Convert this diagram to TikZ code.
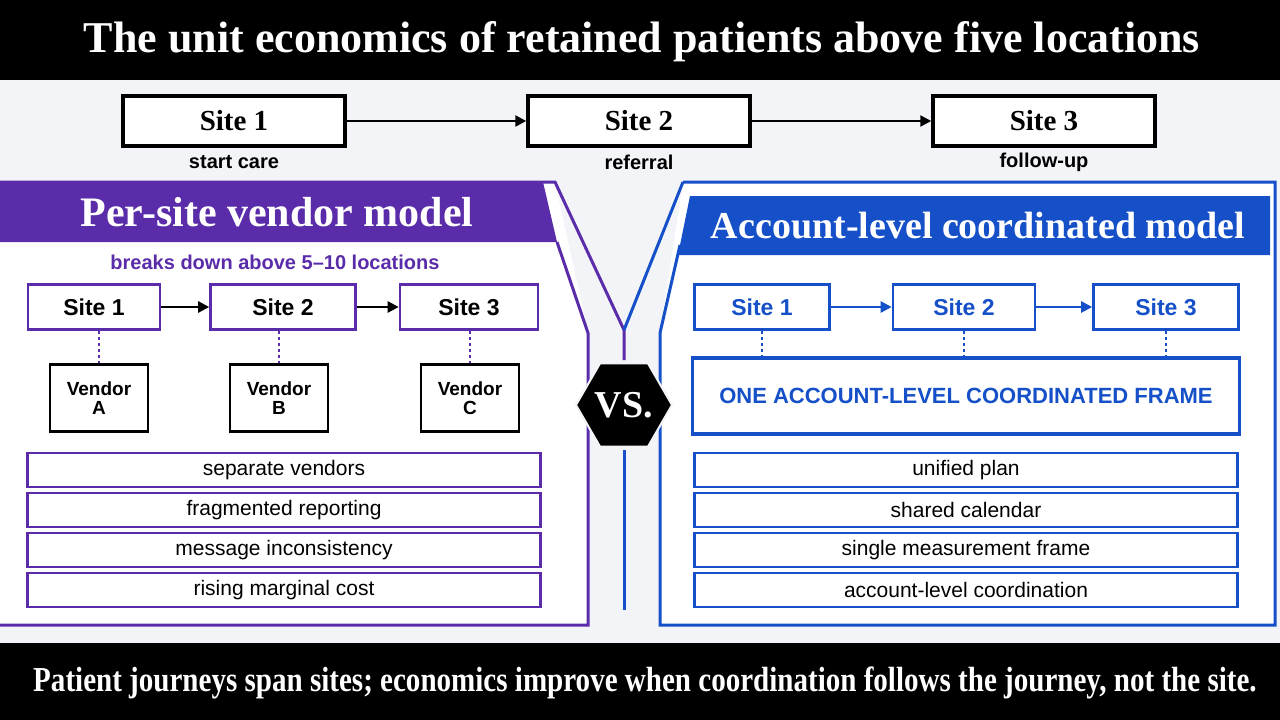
\documentclass[tikz,border=0pt]{standalone}
\usepackage{fontspec}
\setmainfont{Liberation Serif}
\setsansfont{Liberation Sans}
\usetikzlibrary{arrows.meta,positioning,shapes.geometric}
\definecolor{vpurple}{HTML}{5A2CAA}
\definecolor{vblue}{HTML}{1550C8}
\definecolor{paper}{HTML}{F3F4F8}
\newcommand{\fs}[1]{\fontsize{#1}{#1}\selectfont}
\tikzset{
  top/.style={draw=black, line width=3.5pt, fill=white, minimum width=222pt, minimum height=50pt, font=\fs{29}\bfseries},
  stage/.style={font=\sffamily\bfseries\fs{20}},
  lsite/.style={draw=vpurple, line width=2.6pt, fill=white, minimum height=45pt, font=\sffamily\bfseries\fs{23}},
  rsite/.style={draw=vblue, line width=2.6pt, fill=white, minimum height=45pt, text=vblue, font=\sffamily\bfseries\fs{23}},
  vendor/.style={draw=black, line width=2.6pt, fill=white, minimum width=98pt, minimum height=67pt, align=center, font=\sffamily\bfseries\fs{19}},
  litem/.style={draw=vpurple, line width=2.6pt, fill=white, minimum width=513pt, minimum height=34pt, font=\sffamily\fs{21}},
  ritem/.style={draw=vblue, line width=2.6pt, fill=white, minimum width=543pt, minimum height=34pt, font=\sffamily\fs{21}},
  flow/.style={-{Triangle[length=11pt,width=11pt]}, line width=2.4pt},
  link/.style={dashed, line width=2pt}
}
\begin{document}
\begin{tikzpicture}[x=1pt, y=-1pt]
    \useasboundingbox (0,0) rectangle (1280,720);
    % Bands
    \fill[paper] (0,80) rectangle (1280,643);
    \fill[black] (0,0) rectangle (1280,80);
    \fill[black] (0,643) rectangle (1280,720);
    \node[text=white, font=\fs{44}\bfseries] (title) at (642,42) {The unit economics of retained patients above five locations};
    \node[text=white, font=\fs{35}\bfseries, xscale=0.83] (foot) at (645,683) {Patient journeys span sites; economics improve when coordination follows the journey, not the site.};

    % Journey
    \node[top] (j1) at (234,121) {Site 1};
    \node[top] (j2) at (639,121) {Site 2};
    \node[top] (j3) at (1044,121) {Site 3};
    \draw[flow] (j1) -- (j2);
    \draw[flow] (j2) -- (j3);
    \node[stage] (c1) at (234,162) {start care};
    \node[stage] (c2) at (639,162) {referral};
    \node[stage] (c3) at (1044,162) {follow-up};

    % Panel outlines
    \fill[white] (0,182) -- (555,182) -- (588,333) -- (588,625) -- (0,625) -- cycle;
    \fill[white] (683,182) -- (1275,182) -- (1275,625) -- (660,625) -- (660,333) -- cycle;
    \draw[vpurple, line width=3pt] (0,182) -- (555,182) -- (624,330) -- (624,360);
    \draw[vpurple, line width=3pt] (557,242) -- (588,333) -- (588,625) -- (0,625);
    \draw[vblue, line width=3pt] (683,182) -- (624,330);
    \draw[vblue, line width=3pt] (624,450) -- (624,610);
    \draw[vblue, line width=3pt] (680,245) -- (660,333) -- (660,625) -- (1275,625) -- (1275,182) -- (683,182);
    \fill[vpurple] (0,182) -- (543,182) -- (557,242) -- (0,242) -- cycle;
    \fill[vblue] (690,196) -- (1270,196) -- (1270,255) -- (678,255) -- cycle;
    \node[text=white, font=\fs{42}\bfseries] (lhead) at (277,212) {Per-site vendor model};
    \node[text=white, font=\fs{38}\bfseries] (rhead) at (978,226) {Account-level coordinated model};

    % Left model
    \node[text=vpurple, font=\sffamily\bfseries\fs{20}] (brk) at (275,262) {breaks down above 5--10 locations};
    \node[lsite, minimum width=132pt] (l1) at (94,307) {Site 1};
    \node[lsite, minimum width=145pt] (l2) at (283,307) {Site 2};
    \node[lsite, minimum width=138pt] (l3) at (469,307) {Site 3};
    \draw[flow] (l1) -- (l2);
    \draw[flow] (l2) -- (l3);
    \node[vendor] (va) at (99,398) {Vendor\\A};
    \node[vendor] (vb) at (279,398) {Vendor\\B};
    \node[vendor] (vc) at (470,398) {Vendor\\C};
    \foreach \s/\v in {l1/va, l2/vb, l3/vc}
      \draw[link, vpurple] (\s.south -| \v) -- (\v);
    \node[litem] (li1) at (284,470) {separate vendors};
    \node[litem] (li2) at (284,510) {fragmented reporting};
    \node[litem] (li3) at (284,550) {message inconsistency};
    \node[litem] (li4) at (284,590) {rising marginal cost};

    % Right model
    \node[rsite, minimum width=135pt] (r1) at (762,307) {Site 1};
    \node[rsite, minimum width=142pt] (r2) at (964,307) {Site 2};
    \node[rsite, minimum width=145pt] (r3) at (1166,307) {Site 3};
    \draw[flow, vblue] (r1) -- (r2);
    \draw[flow, vblue] (r2) -- (r3);
    \node[draw=vblue, line width=3.5pt, fill=white, minimum width=547pt, minimum height=76pt, text=vblue, font=\sffamily\bfseries\fs{22}] (frame) at (966,396) {ONE ACCOUNT-LEVEL COORDINATED FRAME};
    \foreach \s in {r1, r2, r3}
      \draw[link, vblue] (\s) -- (\s |- frame.north);
    \node[ritem] (ri1) at (966,470) {unified plan};
    \node[ritem] (ri2) at (966,510) {shared calendar};
    \node[ritem] (ri3) at (966,550) {single measurement frame};
    \node[ritem] (ri4) at (966,590) {account-level coordination};

    % Versus
    \node[regular polygon, regular polygon sides=6, fill=black, draw=paper, line width=2pt, minimum size=96pt, inner sep=0pt, text=white, font=\fs{38}\bfseries] (vs) at (624,405) {VS.};
\end{tikzpicture}
\end{document}
